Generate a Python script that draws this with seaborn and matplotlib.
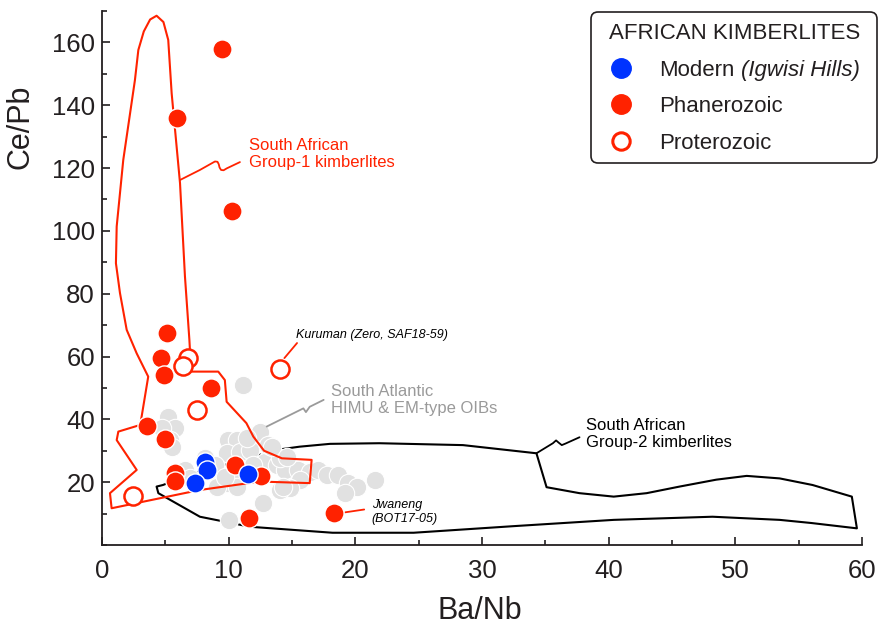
import matplotlib
matplotlib.use("Agg")
import matplotlib.pyplot as plt
from matplotlib.patches import Polygon, FancyBboxPatch
from matplotlib.lines import Line2D
from matplotlib.ticker import MultipleLocator
from matplotlib.transforms import IdentityTransform
import seaborn as sns

sns.set_style("ticks")
plt.rcParams["font.family"] = ["Liberation Sans", "DejaVu Sans"]

INK = "#231f20"
RED = "#ff2200"
BLUE = "#0033ff"
GREY = "#e1e1e1"
GREY_TXT = "#9a9a9a"

# ---- Sample data: Ba/Nb vs Ce/Pb ----
modern_ba_nb = [8.15, 8.3, 7.34, 11.55]
modern_ce_pb = [26.3, 23.9, 19.6, 22.6]

phan_ba_nb = [9.47, 5.9, 10.3, 5.1, 4.66, 4.9, 8.6, 3.55, 4.95, 5.8, 5.75, 10.5, 12.55, 11.63, 18.33]
phan_ce_pb = [158.0, 135.8, 106.4, 67.5, 59.6, 54.0, 50.0, 37.9, 33.7, 23.0, 20.5, 25.5, 22.1, 8.7, 10.3]

prot_ba_nb = [6.8, 6.37, 7.52, 14.05, 2.42]
prot_ce_pb = [59.4, 57.1, 43.0, 56.0, 15.7]

# South Atlantic HIMU & EM-type ocean island basalts
oib_ba_nb = [11.13, 5.21, 5.76, 5.37, 5.52, 9.94, 10.66, 12.47, 9.87, 10.89,
             11.68, 13.26, 12.87, 13.81, 14.44, 15.47, 16.42, 17.05, 17.76, 18.63,
             19.42, 20.13, 21.55, 19.18, 15.63, 14.84, 14.05, 9.87, 10.89, 12.73,
             10.05, 8.13, 8.92, 11.92, 6.55, 6.95, 13.1, 11.42, 14.05, 4.74,
             13.4, 14.58, 10.63, 9.05, 9.71, 14.3]
oib_ce_pb = [51.0, 40.8, 37.3, 33.5, 31.2, 33.5, 33.5, 36.0, 29.3, 29.6,
             30.3, 29.3, 26.5, 25.5, 23.9, 23.9, 23.3, 23.9, 22.3, 22.3,
             19.8, 18.5, 20.7, 16.6, 20.7, 18.2, 17.5, 19.8, 21.4, 13.4,
             8.0, 27.7, 25.5, 25.5, 23.9, 21.4, 31.9, 34.0, 27.7, 37.3,
             31.3, 28.1, 18.6, 18.6, 21.8, 18.6]

# Field outlines (Ba/Nb, Ce/Pb)
group1_ba_nb = [4.31, 4.85, 5.23, 5.5, 6.16, 6.55, 6.9, 7.0, 7.08, 9.18, 9.7, 9.84,
                11.4, 11.95, 12.8, 14.2, 16.55, 16.4, 12.47, 7.7, 0.76, 0.63, 2.74,
                1.16, 1.29, 3.0, 3.13, 3.65, 2.74, 1.95, 1.42, 1.1, 1.16, 1.68, 2.6,
                2.87, 3.3, 3.8]
group1_ce_pb = [168.5, 166.5, 160.8, 143.8, 115.2, 85.5, 65.3, 58.0, 55.2, 55.2, 52.5, 45.6,
                38.8, 34.5, 30.0, 27.6, 27.1, 19.7, 20.2, 17.5, 11.7, 16.5, 23.9,
                33.4, 36.1, 38.2, 40.9, 53.6, 61.0, 68.5, 80.2, 89.7, 101.4, 122.6, 148.0,
                157.6, 163.5, 167.3]

group2_ba_nb = [4.31, 4.81, 7.34, 11.0, 13.8, 15.6, 18.0, 21.9, 28.5, 34.3, 35.1, 37.7,
                40.4, 43.0, 45.6, 48.5, 50.9, 53.5, 56.1, 59.2, 59.6, 56.0, 53.5, 48.2,
                40.4, 32.5, 24.6, 18.2, 11.7, 7.73, 4.45]
group2_ce_pb = [18.6, 19.1, 23.0, 27.0, 30.3, 31.3, 32.2, 32.4, 31.8, 29.2, 18.4, 16.5,
                15.4, 16.5, 18.6, 20.8, 22.0, 21.2, 19.1, 15.4, 5.3, 7.0, 8.0, 9.0,
                8.0, 6.0, 3.9, 3.9, 5.8, 9.0, 16.5]

fig = plt.figure(figsize=(8.8, 6.26), dpi=100)
ax = fig.add_axes([0.1159, 0.1294, 0.8636, 0.853])

# Group-2 outline sits beneath the OIB points
ax.add_patch(Polygon(list(zip(group2_ba_nb, group2_ce_pb)), closed=True, fill=False,
                     edgecolor="black", linewidth=1.5, joinstyle="round", zorder=1.5))

sns.scatterplot(x=oib_ba_nb, y=oib_ce_pb, ax=ax, color=GREY, s=175,
                edgecolor="white", linewidth=0.8, zorder=2, legend=False)

ax.add_patch(Polygon(list(zip(group1_ba_nb, group1_ce_pb)), closed=True, fill=False,
                     edgecolor=RED, linewidth=1.5, joinstyle="round", zorder=3))

# Kimberlite samples
sns.scatterplot(x=prot_ba_nb, y=prot_ce_pb, ax=ax, s=170, facecolor="white",
                edgecolor=RED, linewidth=1.8, zorder=4, legend=False)
sns.scatterplot(x=phan_ba_nb, y=phan_ce_pb, ax=ax, color=RED, s=190,
                edgecolor="white", linewidth=1.0, zorder=5, legend=False)
sns.scatterplot(x=modern_ba_nb, y=modern_ce_pb, ax=ax, color=BLUE, s=190,
                edgecolor="white", linewidth=1.0, zorder=6, legend=False)

# Leader lines and field labels
ax.plot([6.16, 7.73, 8.92, 9.12, 9.22, 9.28, 9.4, 9.6, 9.85, 10.89],
        [116.2, 119.4, 122.1, 122.0, 121.2, 120.2, 119.4, 119.3, 119.9, 121.9],
        color=RED, lw=1.3, zorder=3)
ax.text(11.6, 124.5, "South African\nGroup-1 kimberlites", color=RED, fontsize=12,
        va="center", ha="left", linespacing=1.15)

ax.plot([13.0, 15.9, 16.1, 16.4, 17.5], [37.7, 43.5, 42.3, 44.0, 46.2],
        color=GREY_TXT, lw=1.3, zorder=3)
ax.text(18.07, 46.2, "South Atlantic\nHIMU & EM-type OIBs", color=GREY_TXT,
        fontsize=12, va="center", ha="left", linespacing=1.15)

ax.plot([34.3, 35.6, 35.85, 36.05, 36.3, 36.6, 37.7],
        [29.2, 32.4, 33.3, 32.6, 31.8, 32.3, 34.3],
        color="black", lw=1.3, zorder=3)
ax.text(38.2, 35.4, "South African\nGroup-2 kimberlites", color="black", fontsize=12,
        va="center", ha="left", linespacing=1.15)

ax.plot([14.4, 15.4], [59.5, 64.3], color=RED, lw=1.3, zorder=3)
ax.text(15.3, 66.8, "Kuruman (Zero, SAF18-59)", color="black", fontsize=9,
        style="italic", va="center", ha="left")

ax.plot([19.2, 20.7], [10.4, 11.3], color=RED, lw=1.3, zorder=3)
ax.text(21.3, 10.4, "Jwaneng\n(BOT17-05)", color="black", fontsize=9,
        style="italic", va="center", ha="left", linespacing=1.25)

# Axes styling
ax.set_xlim(0, 60)
ax.set_ylim(0, 170)
ax.xaxis.set_major_locator(MultipleLocator(10))
ax.xaxis.set_minor_locator(MultipleLocator(5))
ax.yaxis.set_minor_locator(MultipleLocator(10))
ax.set_yticks([20, 40, 60, 80, 100, 120, 140, 160])
sns.despine(ax=ax)
for side in ("left", "bottom"):
    ax.spines[side].set_linewidth(1.3)
    ax.spines[side].set_color(INK)
ax.tick_params(which="major", direction="in", length=6, width=1.2, color=INK,
               labelsize=18.5, labelcolor=INK)
ax.tick_params(which="minor", direction="in", length=3.5, width=1.2, color=INK)
ax.tick_params(axis="x", which="major", pad=10)
ax.tick_params(axis="y", which="major", pad=5)
ax.set_xlabel("Ba/Nb", fontsize=22, color=INK)
ax.set_ylabel("Ce/Pb", fontsize=22, color=INK)
ax.xaxis.set_label_coords(0.497, -0.096)
ax.yaxis.set_label_coords(-0.087, 0.784)

# Legend frame (pixel coordinates) and contents
LEG_FS = 16
box = FancyBboxPatch((591, 626 - 163), 286, 151,
                     boxstyle="round,pad=0,rounding_size=7",
                     transform=IdentityTransform(), facecolor="white",
                     edgecolor=INK, linewidth=1.2, clip_on=False, zorder=9)
ax.add_artist(box)

handles = [
    Line2D([], [], ls="", marker="o", ms=14, mfc=BLUE, mec=BLUE),
    Line2D([], [], ls="", marker="o", ms=14, mfc=RED, mec=RED),
    Line2D([], [], ls="", marker="o", ms=12.5, mfc="white", mec=RED, mew=2.2),
]
labels = ["Modern (Igwisi Hills)", "Phanerozoic", "Proterozoic"]
leg = ax.legend(handles, labels, title="AFRICAN KIMBERLITES", loc="upper left",
                bbox_to_anchor=(609 / 880, 1 - 23 / 626), bbox_transform=fig.transFigure,
                fontsize=LEG_FS, title_fontsize=LEG_FS, alignment="left",
                frameon=False, borderaxespad=0, borderpad=0,
                labelspacing=0.7, handlelength=1.08, handletextpad=1.17)
leg.set_zorder(10)
for t in leg.get_texts():
    t.set_color(INK)
leg.get_title().set_color(INK)

# First entry: upright "Modern" followed by the locality in italics
fig.canvas.draw()
first = leg.get_texts()[0]
first.set_text("Modern")
fig.canvas.draw()
bb = first.get_window_extent()
space = LEG_FS * 0.278 * fig.dpi / 72
fig.text(bb.x1 + space, bb.y0, "(Igwisi Hills)", transform=IdentityTransform(),
         fontsize=LEG_FS, style="italic", color=INK, ha="left", va="bottom", zorder=11)

fig.savefig("out.png", dpi=100)
